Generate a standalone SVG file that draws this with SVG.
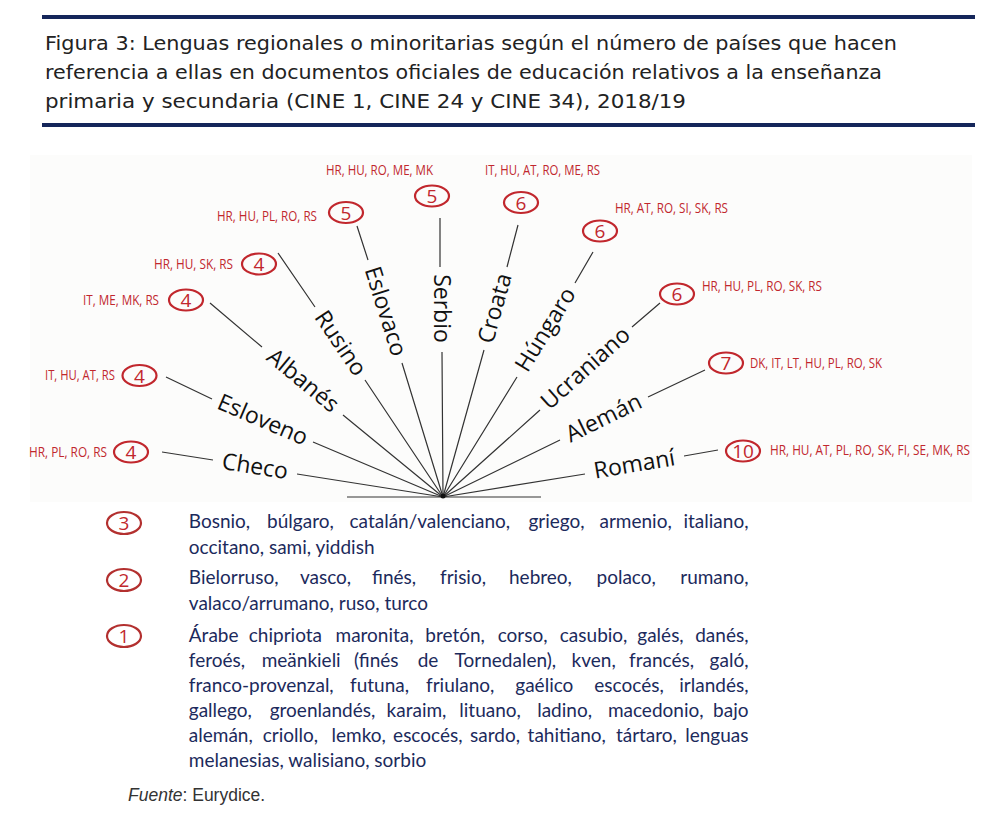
<svg xmlns="http://www.w3.org/2000/svg" width="1002" height="831" viewBox="0 0 1002 831">
<style>
.bar{fill:#15265a}
.title{font-family:"DejaVu Sans",Verdana,sans-serif;font-size:19px;fill:#222}
.lbl{font-family:"Open Sans",sans-serif;font-size:23px;fill:#111;text-anchor:middle}
.cc{font-family:"Open Sans",sans-serif;font-size:15px;fill:#c1272d}
.num{font-family:"Open Sans",sans-serif;font-size:19px;fill:#c1272d;text-anchor:middle}
.ring{fill:none;stroke:#c1272d;stroke-width:2.2}
.lring{fill:none;stroke:#b3302f;stroke-width:2.2}
.ln{stroke:#333;stroke-width:1.2;fill:none}
.leg{font-family:Lato,sans-serif;font-size:19px;fill:#1c2a5c}
.src{font-family:"Liberation Sans",Arial,sans-serif;font-size:17.5px;fill:#333}
</style>
<rect width="1002" height="831" fill="#fff"/>
<g id="title">
<rect class="bar" x="42" y="15" width="933" height="4"/>
<text class="title" x="45" y="50" textLength="852" lengthAdjust="spacingAndGlyphs">Figura 3: Lenguas regionales o minoritarias según el número de países que hacen</text>
<text class="title" x="45" y="79" textLength="837" lengthAdjust="spacingAndGlyphs">referencia a ellas en documentos oficiales de educación relativos a la enseñanza</text>
<text class="title" x="45" y="108" textLength="641" lengthAdjust="spacingAndGlyphs">primaria y secundaria (CINE 1, CINE 24 y CINE 34), 2018/19</text>
<rect class="bar" x="42" y="123" width="933" height="4"/>
</g>
<rect id="panel" x="30" y="155" width="942" height="347" fill="#fcfcfb"/>
<g id="connectors">
<line class="ln" x1="347" y1="497" x2="541" y2="497" stroke="#888"/>
<path class="ln" d="M443 497L297 474M213 460L162 452"/>
<path class="ln" d="M443 497L313 442M212 399L166 377"/>
<path class="ln" d="M443 497L343 415M262 347L210 303"/>
<path class="ln" d="M443 497L365 380M315 307L278 253"/>
<path class="ln" d="M443 497L402 363M368 260L357 226"/>
<path class="ln" d="M443 497L442 352M440 267L440 218"/>
<path class="ln" d="M443 497L484 350M507 267L518 225"/>
<path class="ln" d="M443 497L517 377M575 283L593 252"/>
<path class="ln" d="M443 497L540 410M632 327L660 303"/>
<path class="ln" d="M443 497L560 440M648 397L705 370"/>
<path class="ln" d="M443 497L585 474M684 456L718 450"/>
<circle cx="443" cy="496" r="2.5" fill="#111"/>
</g>
<g id="n-checo">
<text class="lbl" transform="translate(255 467) rotate(9.1)" y="7">Checo</text>
<ellipse class="ring" cx="131" cy="452" rx="17" ry="10.5"/><text class="num" x="131" y="459">4</text>
<text class="cc" transform="translate(29 457) scale(0.75 1)" textLength="104" lengthAdjust="spacingAndGlyphs">HR, PL, RO, RS</text>
</g>
<g id="n-esloveno">
<text class="lbl" transform="translate(262.5 420.5) rotate(23.2)" y="7">Esloveno</text>
<ellipse class="ring" cx="139.5" cy="375.5" rx="17" ry="10.5"/><text class="num" x="139.5" y="382.5">4</text>
<text class="cc" transform="translate(45 380) scale(0.75 1)" textLength="93.3" lengthAdjust="spacingAndGlyphs">IT, HU, AT, RS</text>
</g>
<g id="n-albanes">
<text class="lbl" transform="translate(302.5 381) rotate(39.6)" y="7">Albanés</text>
<ellipse class="ring" cx="186" cy="300" rx="17" ry="10.5"/><text class="num" x="186" y="307">4</text>
<text class="cc" transform="translate(83 305) scale(0.75 1)" textLength="101.3" lengthAdjust="spacingAndGlyphs">IT, ME, MK, RS</text>
</g>
<g id="n-rusino">
<text class="lbl" transform="translate(340 343.5) rotate(56)" y="7">Rusino</text>
<ellipse class="ring" cx="259" cy="264" rx="17" ry="10.5"/><text class="num" x="259" y="271">4</text>
<text class="cc" transform="translate(154 269) scale(0.75 1)" textLength="105.3" lengthAdjust="spacingAndGlyphs">HR, HU, SK, RS</text>
</g>
<g id="n-eslovaco">
<text class="lbl" transform="translate(385 311.5) rotate(72.5)" y="7">Eslovaco</text>
<ellipse class="ring" cx="346" cy="212.5" rx="17" ry="10.5"/><text class="num" x="346" y="219.5">5</text>
<text class="cc" transform="translate(217 221) scale(0.75 1)" textLength="133.3" lengthAdjust="spacingAndGlyphs">HR, HU, PL, RO, RS</text>
</g>
<g id="n-serbio">
<text class="lbl" transform="translate(441 308.5) rotate(90)" y="7">Serbio</text>
<ellipse class="ring" cx="432" cy="196" rx="17" ry="10.5"/><text class="num" x="432" y="203">5</text>
<text class="cc" transform="translate(326 175) scale(0.75 1)" textLength="142.7" lengthAdjust="spacingAndGlyphs">HR, HU, RO, ME, MK</text>
</g>
<g id="n-croata">
<text class="lbl" transform="translate(495.5 308.5) rotate(-74.5)" y="7">Croata</text>
<ellipse class="ring" cx="521" cy="202.5" rx="17" ry="10.5"/><text class="num" x="521" y="209.5">6</text>
<text class="cc" transform="translate(485 175) scale(0.75 1)" textLength="153.3" lengthAdjust="spacingAndGlyphs">IT, HU, AT, RO, ME, RS</text>
</g>
<g id="n-hungaro">
<text class="lbl" transform="translate(546 330) rotate(-58.4)" y="7">Húngaro</text>
<ellipse class="ring" cx="600" cy="231" rx="17" ry="10.5"/><text class="num" x="600" y="238">6</text>
<text class="cc" transform="translate(615 213) scale(0.75 1)" textLength="150.7" lengthAdjust="spacingAndGlyphs">HR, AT, RO, SI, SK, RS</text>
</g>
<g id="n-ucraniano">
<text class="lbl" transform="translate(586 368.5) rotate(-41.9)" y="7">Ucraniano</text>
<ellipse class="ring" cx="677" cy="294" rx="17" ry="10.5"/><text class="num" x="677" y="301">6</text>
<text class="cc" transform="translate(702 291) scale(0.75 1)" textLength="160" lengthAdjust="spacingAndGlyphs">HR, HU, PL, RO, SK, RS</text>
</g>
<g id="n-aleman">
<text class="lbl" transform="translate(604 418.5) rotate(-26)" y="7">Alemán</text>
<ellipse class="ring" cx="726" cy="363" rx="17" ry="10.5"/><text class="num" x="726" y="370">7</text>
<text class="cc" transform="translate(750 368) scale(0.75 1)" textLength="176" lengthAdjust="spacingAndGlyphs">DK, IT, LT, HU, PL, RO, SK</text>
</g>
<g id="n-romani">
<text class="lbl" transform="translate(634.5 465) rotate(-9.6)" y="7">Romaní</text>
<ellipse class="ring" cx="743" cy="451" rx="17" ry="10.5"/><text class="num" x="743" y="458">10</text>
<text class="cc" transform="translate(770 455) scale(0.75 1)" textLength="266.7" lengthAdjust="spacingAndGlyphs">HR, HU, AT, PL, RO, SK, FI, SE, MK, RS</text>
</g>
<g id="legend-3">
<ellipse class="lring" cx="124" cy="523" rx="17" ry="11"/><text class="num" x="124" y="530">3</text>
<text class="leg" y="528"><tspan x="188.8">Bosnio,</tspan><tspan x="267.1">búlgaro,</tspan><tspan x="349.5">catalán/valenciano,</tspan><tspan x="528.4">griego,</tspan><tspan x="599.5">armenio,</tspan><tspan x="748.5" text-anchor="end">italiano,</tspan></text>
<text class="leg" x="188.8" y="554">occitano, sami, yiddish</text>
</g>
<g id="legend-2">
<ellipse class="lring" cx="124" cy="580" rx="17" ry="11"/><text class="num" x="124" y="587">2</text>
<text class="leg" y="584"><tspan x="188.8">Bielorruso,</tspan><tspan x="299.9">vasco,</tspan><tspan x="372">finés,</tspan><tspan x="440">frisio,</tspan><tspan x="509">hebreo,</tspan><tspan x="596.5">polaco,</tspan><tspan x="748.5" text-anchor="end">rumano,</tspan></text>
<text class="leg" x="188.8" y="610">valaco/arrumano, ruso, turco</text>
</g>
<g id="legend-1">
<ellipse class="lring" cx="124" cy="636" rx="17" ry="11"/><text class="num" x="124" y="643">1</text>
<text class="leg" y="642"><tspan x="188.8">Árabe</tspan><tspan x="248.8">chipriota</tspan><tspan x="335.5">maronita,</tspan><tspan x="425.3">bretón,</tspan><tspan x="497.7">corso,</tspan><tspan x="559.8">casubio,</tspan><tspan x="637.3">galés,</tspan><tspan x="748.5" text-anchor="end">danés,</tspan></text>
<text class="leg" y="667"><tspan x="188.8">feroés,</tspan><tspan x="261.7">meänkieli</tspan><tspan x="354.1">(finés</tspan><tspan x="417.7">de</tspan><tspan x="454.6">Tornedalen),</tspan><tspan x="571.6">kven,</tspan><tspan x="629.1">francés,</tspan><tspan x="748.5" text-anchor="end">galó,</tspan></text>
<text class="leg" y="692"><tspan x="188.8">franco-provenzal,</tspan><tspan x="350">futuna,</tspan><tspan x="426">friulano,</tspan><tspan x="515.3">gaélico</tspan><tspan x="594.3">escocés,</tspan><tspan x="748.5" text-anchor="end">irlandés,</tspan></text>
<text class="leg" y="717"><tspan x="188.8">gallego,</tspan><tspan x="269.7">groenlandés,</tspan><tspan x="386.6">karaim,</tspan><tspan x="459.3">lituano,</tspan><tspan x="537.2">ladino,</tspan><tspan x="607.9">macedonio,</tspan><tspan x="748.5" text-anchor="end">bajo</tspan></text>
<text class="leg" y="742"><tspan x="188.8">alemán,</tspan><tspan x="262.7">criollo,</tspan><tspan x="331.5">lemko,</tspan><tspan x="393.1">escocés,</tspan><tspan x="470.1">sardo,</tspan><tspan x="527.6">tahitiano,</tspan><tspan x="615.9">tártaro,</tspan><tspan x="748.5" text-anchor="end">lenguas</tspan></text>
<text class="leg" x="188.8" y="767">melanesias, walisiano, sorbio</text>
</g>
<text id="source" class="src" x="128" y="801"><tspan font-style="italic">Fuente</tspan>: Eurydice.</text>
</svg>
